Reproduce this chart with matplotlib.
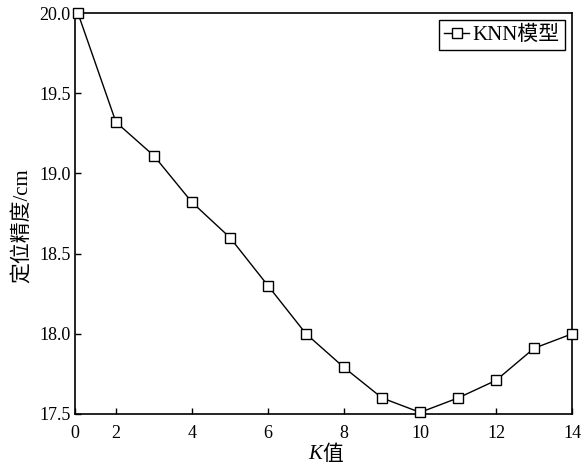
import matplotlib.pyplot as plt

plt.rcParams['font.family'] = ['Liberation Serif', 'Noto Sans CJK SC']

# K values and positioning accuracy (cm)
k_values = [1, 2, 3, 4, 5, 6, 7, 8, 9, 10, 11, 12, 13, 14]
accuracy = [20.0, 19.32, 19.11, 18.82, 18.60, 18.30, 18.00, 17.79, 17.60, 17.51, 17.60, 17.71, 17.91, 18.00]
x_ticks = [0.92, 2, 4, 6, 8, 10, 12, 14]
x_labels = ['0', '2', '4', '6', '8', '10', '12', '14']
y_ticks = [17.5, 18.0, 18.5, 19.0, 19.5, 20.0]

fig = plt.figure(figsize=(5.85, 4.67), dpi=100)
ax = fig.add_axes([0.128, 0.1135, 0.85, 0.8585])

ax.plot(k_values, accuracy, color='black', lw=1, marker='s', markersize=7,
        markerfacecolor='white', markeredgecolor='black', markeredgewidth=1,
        label='KNN模型', clip_on=False, zorder=3)

ax.set_xlim(0.92, 14)
ax.set_ylim(17.5, 20.0)
ax.set_xticks(x_ticks)
ax.set_xticklabels(x_labels)
ax.set_yticks(y_ticks)
ax.set_yticklabels(['%.1f' % v for v in y_ticks])
ax.tick_params(direction='in', length=4, width=1, labelsize=13)
ax.tick_params(axis='x', pad=8)
ax.tick_params(axis='y', pad=3)
for s in ax.spines.values():
    s.set_linewidth(1.2)

# x label: italic K followed by 值
ax.text(0.497, -0.1, 'K', transform=ax.transAxes, ha='right', va='center',
        fontsize=15, style='italic', family='Liberation Serif')
ax.text(0.497, -0.1, '值', transform=ax.transAxes, ha='left', va='center',
        fontsize=15, family=['Noto Sans CJK SC'])
ax.set_ylabel('定位精度/cm', fontsize=15)
ax.yaxis.set_label_coords(-0.084, 0.47)

leg = ax.legend(loc='upper right', fontsize=15, handlelength=1.2, handletextpad=0.15,
                borderpad=0.25, fancybox=False, framealpha=1, borderaxespad=0.35)
leg.get_frame().set_edgecolor('black')
leg.get_frame().set_linewidth(1)

fig.savefig('out.png', dpi=100)
